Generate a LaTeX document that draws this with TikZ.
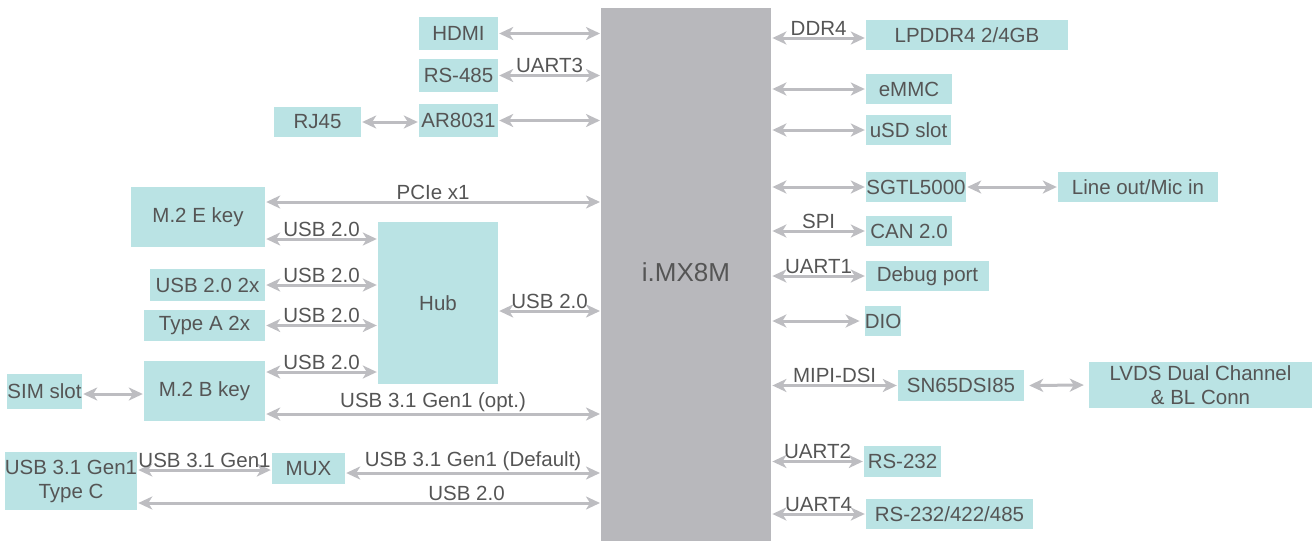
\documentclass[tikz,border=0pt]{standalone}
\usepackage{fontspec}
\setmainfont{Liberation Sans}
\usetikzlibrary{arrows.meta}
\definecolor{boxfill}{HTML}{BAE3E4}
\definecolor{txt}{HTML}{555555}
\definecolor{arr}{HTML}{BDBDC1}
\definecolor{cpufill}{HTML}{B8B8BC}
\tikzset{
  box/.style={fill=boxfill, draw=none, inner sep=0pt, text=txt, font=\fontsize{20.5}{24}\selectfont, align=center},
  conn/.style={draw=arr, line width=3pt, {Stealth[length=14pt,width=13pt,inset=4pt]}-{Stealth[length=14pt,width=13pt,inset=4pt]}, shorten <=1pt, shorten >=1pt},
  lbl/.style={text=txt, font=\fontsize{20.5}{24}\selectfont, inner sep=1pt, anchor=south}
}
\begin{document}
\begin{tikzpicture}[x=1pt,y=-1pt]
\useasboundingbox (0,0) rectangle (1316,541);
% CPU
\node[fill=cpufill, inner sep=0, minimum width=170, minimum height=533, anchor=north west] (cpu) at (601,8) {};
\node[text=txt, font=\fontsize{26}{28}\selectfont] (cpulbl) at (686,272) {i.MX8M};
% left boxes
\node[box, minimum width=79, minimum height=33] (hdmi) at (458.5,33.5) {HDMI};
\node[box, minimum width=79, minimum height=33] (rs485) at (458.5,75.5) {RS-485};
\node[box, minimum width=79, minimum height=33] (ar) at (458.5,120.5) {AR8031};
\node[box, minimum width=87, minimum height=30] (rj) at (317.5,122) {RJ45};
\node[box, minimum width=134, minimum height=60] (m2e) at (198,217) {M.2 E key};
\node[box, minimum width=120, minimum height=162] (hub) at (438,303) {Hub};
\node[box, minimum width=115, minimum height=32] (usb2x) at (207.5,285) {USB 2.0 2x};
\node[box, minimum width=121, minimum height=31] (typea) at (204.5,325.5) {Type A 2x};
\node[box, minimum width=121, minimum height=60] (m2b) at (204.5,391) {M.2 B key};
\node[box, minimum width=75, minimum height=35] (sim) at (44.5,391.5) {SIM slot};
\node[box, minimum width=132, minimum height=58] (typec) at (71,481) {USB 3.1 Gen1\\Type C};
\node[box, minimum width=73, minimum height=31] (mux) at (308.5,468.5) {MUX};
% right boxes
\node[box, minimum width=202, minimum height=30] (lpddr) at (967,35) {LPDDR4 2/4GB};
\node[box, minimum width=86, minimum height=30] (emmc) at (909,89) {eMMC};
\node[box, minimum width=85, minimum height=30] (usd) at (908.5,130) {uSD slot};
\node[box, minimum width=100, minimum height=30] (sgtl) at (916,187) {SGTL5000};
\node[box, minimum width=160, minimum height=30] (line) at (1138,187) {Line out/Mic in};
\node[box, minimum width=86, minimum height=30] (can) at (909,231) {CAN 2.0};
\node[box, minimum width=123, minimum height=30] (dbg) at (927.5,276) {Debug port};
\node[box, minimum width=34, minimum height=30] (dio) at (883,321) {DIO};
\node[box, minimum width=126, minimum height=31] (sn) at (961,385.5) {SN65DSI85};
\node[box, minimum width=223, minimum height=46] (lvds) at (1200.5,385) {LVDS Dual Channel\\\& BL Conn};
\node[box, minimum width=77, minimum height=31] (rs232) at (902.5,461.5) {RS-232};
\node[box, minimum width=167, minimum height=30] (rs4) at (949.5,514) {RS-232/422/485};
% left connectors
\draw[conn] (hdmi.east) -- (hdmi.east -| cpu.west);
\draw[conn] (rs485.east) -- node[lbl]{UART3} (rs485.east -| cpu.west);
\draw[conn] (ar.east) -- (ar.east -| cpu.west);
\draw[conn] (rj.east) -- (rj.east -| ar.west);
\draw[conn] (m2e.east |- 0,202) -- node[lbl]{PCIe x1} (cpu.west |- 0,202);
\draw[conn] (m2e.east |- 0,239) -- node[lbl]{USB 2.0} (hub.west |- 0,239);
\draw[conn] (usb2x.east) -- node[lbl]{USB 2.0} (usb2x.east -| hub.west);
\draw[conn] (typea.east) -- node[lbl]{USB 2.0} (typea.east -| hub.west);
\draw[conn] (m2b.east |- 0,372) -- node[lbl]{USB 2.0} (hub.west |- 0,372);
\draw[conn] (hub.east |- 0,311) -- node[lbl]{USB 2.0} (cpu.west |- 0,311);
\draw[conn] (m2b.east |- 0,414) -- node[lbl]{USB 3.1 Gen1 (opt.)} (cpu.west |- 0,414);
\draw[conn] (sim.east |- 0,394) -- (m2b.west |- 0,394);
\draw[conn] (typec.east |- 0,470) -- node[lbl]{USB 3.1 Gen1} (mux.west |- 0,470);
\draw[conn] (mux.east |- 0,473) -- node[lbl]{USB 3.1 Gen1 (Default)} (cpu.west |- 0,473);
\draw[conn] (typec.east |- 0,503) -- node[lbl, pos=0.71]{USB 2.0} (cpu.west |- 0,503);
% right connectors
\draw[conn] (cpu.east |- 0,38) -- node[lbl]{DDR4} (lpddr.west |- 0,38);
\draw[conn] (cpu.east |- emmc.west) -- (emmc.west);
\draw[conn] (cpu.east |- usd.west) -- (usd.west);
\draw[conn] (cpu.east |- sgtl.west) -- (sgtl.west);
\draw[conn] (sgtl.east) -- (line.west);
\draw[conn] (cpu.east |- can.west) -- node[lbl]{SPI} (can.west);
\draw[conn] (cpu.east |- dbg.west) -- node[lbl]{UART1} (dbg.west);
\draw[conn] (cpu.east |- dio.west) -- ([xshift=-4]dio.west);
\draw[conn] (cpu.east |- sn.west) -- node[lbl]{MIPI-DSI} (sn.west);
\draw[conn] ([xshift=4]sn.east) -- ([xshift=-4]lvds.west);
\draw[conn] (cpu.east |- rs232.west) -- node[lbl]{UART2} (rs232.west);
\draw[conn] (cpu.east |- rs4.west) -- node[lbl]{UART4} (rs4.west);
\end{tikzpicture}
\end{document}
